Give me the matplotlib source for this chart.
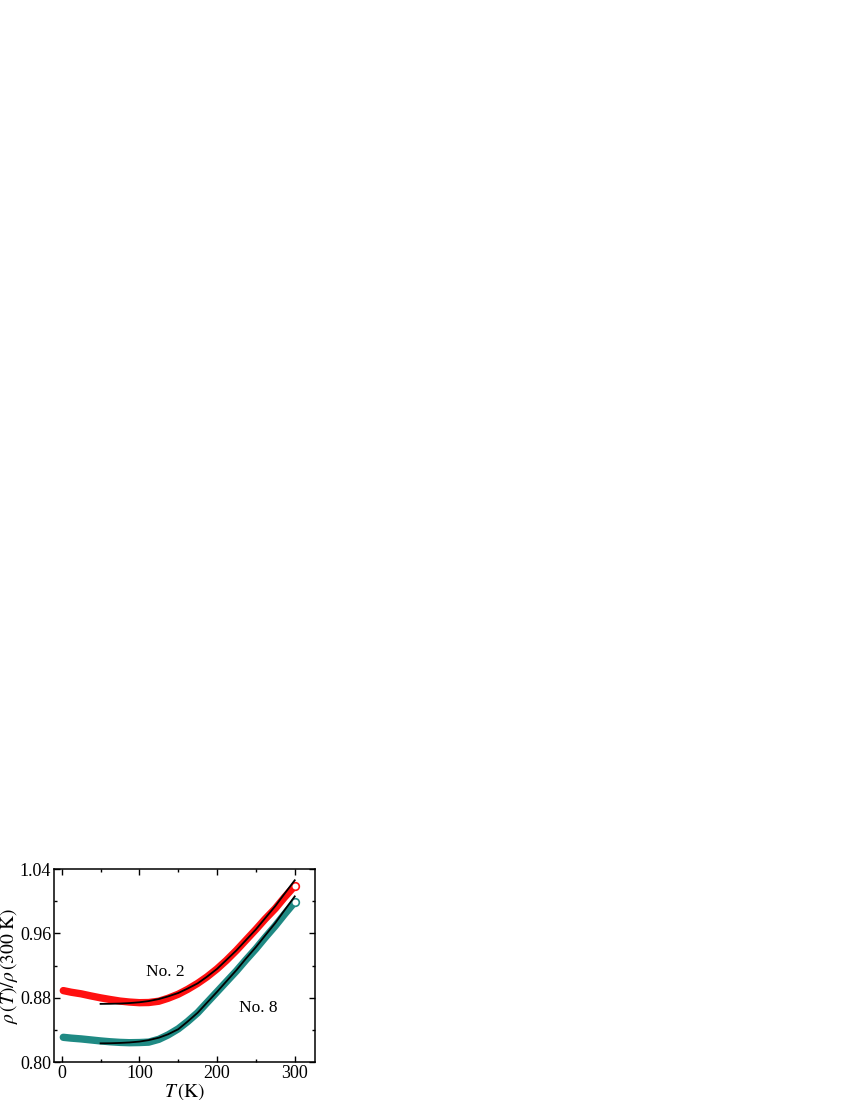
import numpy as np
import matplotlib
matplotlib.use("Agg")
import matplotlib.pyplot as plt
from matplotlib.ticker import MultipleLocator

plt.rcParams['font.family'] = ['Liberation Serif', 'DejaVu Serif']
plt.rcParams['mathtext.fontset'] = 'stix'

T_data = [2, 12, 25, 37, 50, 62, 75, 87, 100, 112, 125, 137, 150, 162, 175,
          187, 200, 212, 225, 237, 250, 262, 275, 287, 300]
rho_no2 = [0.889, 0.887, 0.885, 0.8825, 0.880, 0.878, 0.876, 0.8748, 0.874, 0.8742,
           0.8758, 0.8795, 0.8845, 0.8905, 0.898, 0.906, 0.916, 0.9265, 0.939, 0.9515,
           0.965, 0.978, 0.991, 1.005, 1.019]
rho_no8 = [0.831, 0.830, 0.829, 0.8278, 0.8265, 0.8255, 0.8247, 0.8243, 0.8245, 0.825,
           0.8285, 0.834, 0.8415, 0.8505, 0.8615, 0.874, 0.8875, 0.900, 0.9135, 0.927,
           0.941, 0.955, 0.9695, 0.984, 0.999]

# fits (black lines)
T_fit = [50, 62, 75, 87, 100, 112, 125, 137, 150, 162, 175, 187, 200, 212, 225,
         237, 250, 262, 275, 287, 300]
fit_no2 = [0.8725, 0.8726, 0.8729, 0.8735, 0.8745, 0.876, 0.8785, 0.8818, 0.886, 0.8915,
           0.898, 0.9062, 0.916, 0.927, 0.939, 0.9515, 0.965, 0.979, 0.994, 1.0095, 1.026]
fit_no8 = [0.8235, 0.8236, 0.824, 0.8246, 0.8257, 0.8275, 0.8305, 0.8348, 0.841, 0.8505,
           0.8615, 0.874, 0.8875, 0.9005, 0.9145, 0.9285, 0.943, 0.9575, 0.973, 0.989, 1.006]

red = "#ff1010"
teal = "#1f8a84"

fig = plt.figure(figsize=(8.5, 11), dpi=100)
ax = fig.add_axes([0.0635, 0.0343, 0.307, 0.1757])

for T, rho, c in [(T_data, rho_no2, red), (T_data, rho_no8, teal)]:
    ax.plot(T, rho, color=c, lw=5.3, solid_capstyle="round", solid_joinstyle="round", zorder=2)
    ax.plot(T[-1], rho[-1], "o", ms=5.5, mfc="white", mec=c, mew=1.2, zorder=3)

ax.plot(T_fit, fit_no2, color="black", lw=1.3, zorder=4)
ax.plot(T_fit, fit_no8, color="black", lw=1.3, zorder=4)

ax.text(133, 0.912, "No. 2", fontsize=12.5, ha="center", va="center")
ax.text(253, 0.867, "No. 8", fontsize=12.5, ha="center", va="center")

ax.set_xlim(-10, 326)
ax.set_ylim(0.80, 1.04)
ax.xaxis.set_major_locator(MultipleLocator(100))
ax.xaxis.set_minor_locator(MultipleLocator(50))
ax.yaxis.set_minor_locator(MultipleLocator(0.04))
ax.set_yticks([0.80, 0.88, 0.96, 1.04])
ax.set_yticklabels(["0.80", "0.88", "0.96", "1.04"])
ax.tick_params(which="both", direction="in", top=True, right=True, labelsize=13, pad=2)
ax.tick_params(which="major", length=4, width=1)
ax.tick_params(which="minor", length=2.5, width=1)
for s in ax.spines.values():
    s.set_linewidth(1.1)

ax.set_xlabel(r"$T\,\mathrm{(K)}$", fontsize=14, labelpad=-1)
ax.set_ylabel(r"$\rho\,(T)/\rho\,(300\ \mathrm{K})$", fontsize=14, labelpad=0)

fig.savefig("out.png", dpi=100)
